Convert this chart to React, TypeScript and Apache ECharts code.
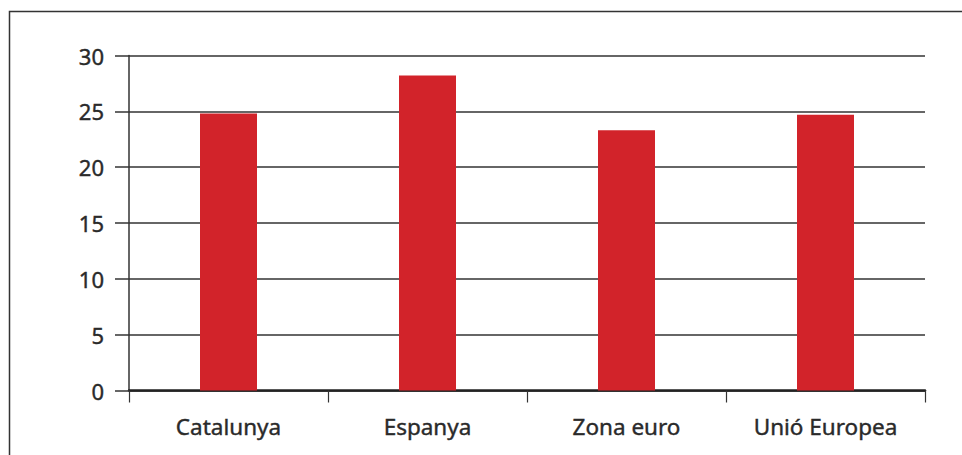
import React, { useEffect, useRef } from "react";
import * as echarts from "echarts";

const categories = ["Catalunya", "Espanya", "Zona euro", "Unió Europea"];
const values = [24.8, 28.2, 23.3, 24.7];
const yTicks = { min: 0, max: 30, interval: 5 };

export default function App() {
  const ref = useRef<HTMLDivElement>(null);
  useEffect(() => {
    if (!ref.current) return;
    const chart = echarts.init(ref.current, undefined, { renderer: "svg" });
    const font = "Noto Sans";
    const labelStyle = {
      color: "#2a2a2a",
      fontFamily: font,
      textBorderColor: "#2a2a2a",
      textBorderWidth: 0.4,
    };
    chart.setOption({
      animation: false,
      backgroundColor: "#ffffff",
      grid: { left: 129, right: 37, top: 55.5, bottom: 64.5, containLabel: false },
      graphic: [
        {
          type: "rect",
          shape: { x: 9.5, y: 11.5, width: 1200, height: 800 },
          style: { fill: "none", stroke: "#333", lineWidth: 1.5 },
          silent: true,
        },
      ],
      xAxis: {
        type: "category",
        data: categories,
        boundaryGap: true,
        axisLine: { show: true, lineStyle: { color: "#222", width: 2.5 } },
        axisTick: { show: true, length: 12, lineStyle: { color: "#333", width: 1.2 } },
        axisLabel: { margin: 24, fontSize: 22.5, ...labelStyle },
        splitLine: { show: false },
      },
      yAxis: {
        type: "value",
        min: yTicks.min,
        max: yTicks.max,
        interval: yTicks.interval,
        axisLine: { show: true, lineStyle: { color: "#333", width: 1.5 } },
        axisTick: { show: true, length: 14, lineStyle: { color: "#333", width: 1.5 } },
        axisLabel: { margin: 25, fontSize: 22, ...labelStyle },
        splitLine: { show: true, lineStyle: { color: "#333", width: 1.5 } },
      },
      series: [
        {
          type: "bar",
          data: values,
          barWidth: 57,
          itemStyle: { color: "#d2232a" },
          z: 1,
        },
      ],
    });
    return () => chart.dispose();
  }, []);
  return (
    <div
      ref={ref}
      style={{ position: "fixed", left: 0, top: 0, width: 962, height: 455, background: "#fff" }}
    />
  );
}
